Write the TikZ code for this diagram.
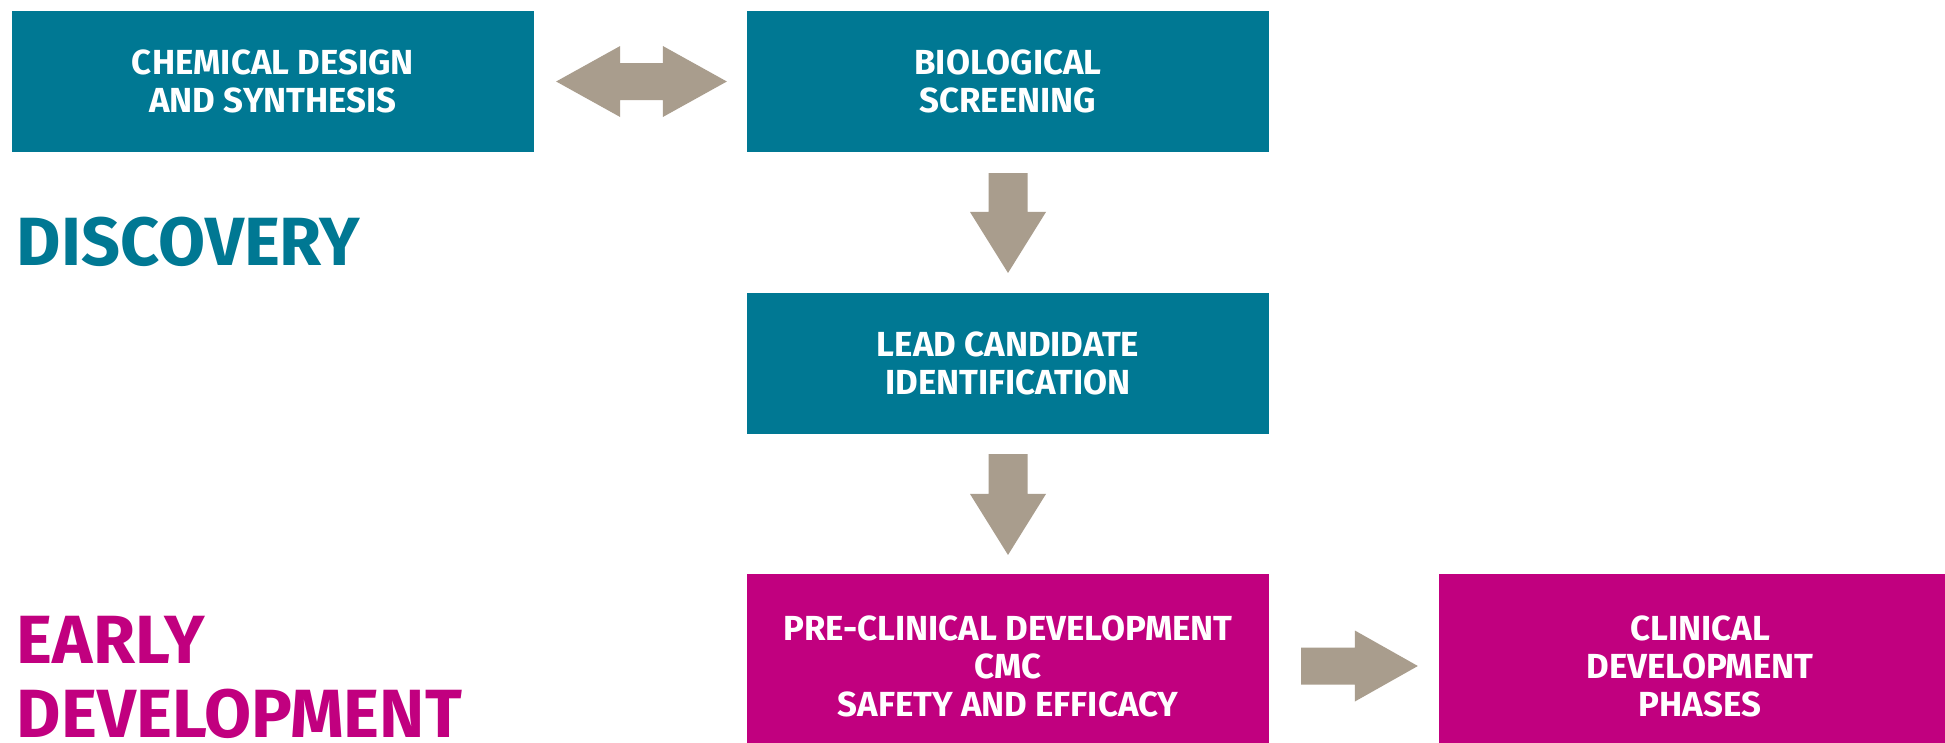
\documentclass[tikz,border=0pt]{standalone}
\usepackage{fontspec}
\setmainfont{Fira Sans}
\usetikzlibrary{calc}
\definecolor{tealc}{HTML}{007893}
\definecolor{magc}{HTML}{C1007F}
\definecolor{arrc}{HTML}{A99D8D}
\tikzset{
  blk/.style={inner sep=0pt, outer sep=0pt, minimum width=5.22cm, minimum height=1.41cm,
    align=center, text=white, font=\bfseries\fontsize{9.9}{10.8}\selectfont},
  tealbox/.style={blk, fill=tealc},
  magbox/.style={blk, fill=magc, minimum height=1.84cm},
  biglabel/.style={inner sep=0pt, outer sep=0pt, anchor=base west, align=left,
    font=\bfseries\fontsize{19.4}{20.8}\selectfont},
  arrfill/.style={fill=arrc, draw=none}
}
\newcommand\blkdown[2]{%
  \fill[arrfill] ($(#1)+(-19.5,0)$) -- ($(#2)+(-19.5,-61)$) -- ($(#2)+(-38,-61)$) -- (#2)
    -- ($(#2)+(38,-61)$) -- ($(#2)+(19.5,-61)$) -- ($(#1)+(19.5,0)$) -- cycle;}
\newcommand\blkright[2]{%
  \fill[arrfill] ($(#1)+(0,-18.5)$) -- ($(#2)+(-63,-18.5)$) -- ($(#2)+(-63,-35.5)$) -- (#2)
    -- ($(#2)+(-63,35.5)$) -- ($(#2)+(-63,18.5)$) -- ($(#1)+(0,18.5)$) -- cycle;}
\newcommand\blkboth[2]{%
  \fill[arrfill] (#1) -- ($(#1)+(64,-35.5)$) -- ($(#1)+(64,-18.5)$) -- ($(#2)+(-64,-18.5)$)
    -- ($(#2)+(-64,-35.5)$) -- (#2) -- ($(#2)+(-64,35.5)$) -- ($(#2)+(-64,18.5)$)
    -- ($(#1)+(64,18.5)$) -- ($(#1)+(64,35.5)$) -- cycle;}
\begin{document}
\begin{tikzpicture}[x=0.01cm, y=-0.01cm]
\clip (0,0) rectangle (1945,742);
\fill[white] (0,0) rectangle (1945,742);
% boxes
\node[tealbox] (b1) at (273,81.5) {CHEMICAL DESIGN\\AND SYNTHESIS};
\node[tealbox] (b2) at (1008,81.5) {BIOLOGICAL\\SCREENING};
\node[tealbox] (b3) at (1008,363.5) {LEAD CANDIDATE\\IDENTIFICATION};
\node[magbox] (b4) at (1008,666) {PRE-CLINICAL DEVELOPMENT\\CMC\\SAFETY AND EFFICACY};
\node[magbox] (b5) at (1700,666) {CLINICAL\\DEVELOPMENT\\PHASES};
% labels
\node[biglabel, text=tealc] (disc) at (17,265) {DISCOVERY};
\node[biglabel, text=magc] (early) at (17,737) {EARLY\\DEVELOPMENT};
% connectors
\coordinate (a1l) at ($(b1.east)+(22,0)$);
\coordinate (a1r) at ($(b2.west)+(-20,0)$);
\blkboth{a1l}{a1r}
\coordinate (a2s) at ($(b2.south)+(0,21)$);
\coordinate (a2t) at ($(b3.north)+(0,-20)$);
\blkdown{a2s}{a2t}
\coordinate (a3s) at ($(b3.south)+(0,20)$);
\coordinate (a3t) at ($(b4.north)+(0,-19)$);
\blkdown{a3s}{a3t}
\coordinate (a4s) at ($(b4.east)+(32,0)$);
\coordinate (a4t) at ($(b5.west)+(-21,0)$);
\blkright{a4s}{a4t}
\end{tikzpicture}
\end{document}
